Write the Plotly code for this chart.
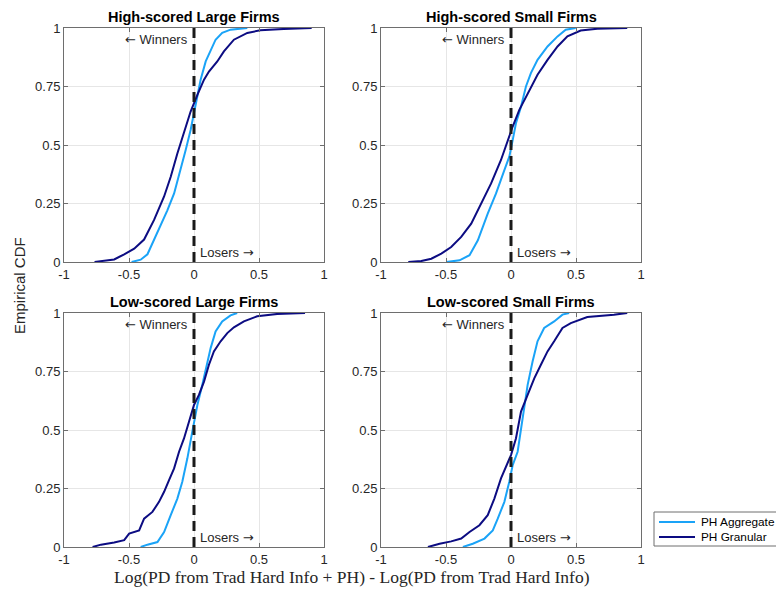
import plotly.graph_objects as go

# ---------------- data ----------------
panel_titles = ["High-scored Large Firms", "High-scored Small Firms",
                "Low-scored Large Firms", "Low-scored Small Firms"]
series_names = ["PH Aggregate", "PH Granular"]
x_ticks = [-1, -0.5, 0, 0.5, 1]
x_tick_labels = ["-1", "-0.5", "0", "0.5", "1"]
y_ticks = [0, 0.25, 0.5, 0.75, 1]
y_tick_labels = ["0", "0.25", "0.5", "0.75", "1"]

# High-scored Large Firms
hl_agg_x = [-0.48, -0.41, -0.358, -0.32, -0.269, -0.205, -0.153, -0.102, -0.064, -0.026, 0.0, 0.026, 0.051, 0.09, 0.128, 0.166, 0.217, 0.281, 0.41]
hl_agg_y = [0.0, 0.01, 0.033, 0.079, 0.136, 0.221, 0.293, 0.393, 0.479, 0.564, 0.636, 0.707, 0.779, 0.857, 0.907, 0.95, 0.979, 0.993, 1.0]
hl_gran_x = [-0.765, -0.614, -0.537, -0.46, -0.384, -0.307, -0.23, -0.179, -0.128, -0.077, -0.026, 0.026, 0.077, 0.115, 0.179, 0.23, 0.307, 0.41, 0.51, 0.69, 0.905]
hl_gran_y = [0.0, 0.011, 0.033, 0.057, 0.096, 0.18, 0.28, 0.364, 0.464, 0.55, 0.643, 0.714, 0.779, 0.814, 0.857, 0.9, 0.95, 0.979, 0.99, 0.996, 1.0]

# High-scored Small Firms
hs_agg_x = [-0.498, -0.396, -0.319, -0.255, -0.179, -0.115, -0.051, -0.013, 0.013, 0.038, 0.077, 0.115, 0.153, 0.204, 0.281, 0.358, 0.421, 0.498]
hs_agg_y = [0.0, 0.007, 0.029, 0.093, 0.207, 0.293, 0.393, 0.45, 0.521, 0.593, 0.664, 0.75, 0.807, 0.864, 0.921, 0.964, 0.993, 1.0]
hs_gran_x = [-0.79, -0.69, -0.613, -0.536, -0.46, -0.383, -0.306, -0.23, -0.153, -0.077, -0.026, 0.013, 0.064, 0.128, 0.204, 0.281, 0.358, 0.434, 0.536, 0.664, 0.894]
hs_gran_y = [0.0, 0.004, 0.014, 0.036, 0.064, 0.107, 0.164, 0.25, 0.336, 0.436, 0.521, 0.579, 0.65, 0.721, 0.8, 0.864, 0.921, 0.964, 0.989, 0.997, 1.0]

# Low-scored Large Firms
ll_agg_x = [-0.41, -0.358, -0.281, -0.23, -0.179, -0.128, -0.09, -0.051, -0.013, 0.026, 0.064, 0.102, 0.128, 0.166, 0.217, 0.281, 0.332]
ll_agg_y = [0.0, 0.01, 0.021, 0.064, 0.136, 0.207, 0.279, 0.379, 0.493, 0.607, 0.693, 0.779, 0.85, 0.921, 0.964, 0.99, 1.0]
ll_gran_x = [-0.78, -0.716, -0.614, -0.537, -0.499, -0.422, -0.384, -0.32, -0.269, -0.23, -0.192, -0.153, -0.115, -0.077, -0.038, 0.0, 0.038, 0.077, 0.115, 0.153, 0.205, 0.256, 0.307, 0.384, 0.486, 0.64, 0.854]
ll_gran_y = [0.0, 0.01, 0.019, 0.029, 0.057, 0.071, 0.121, 0.15, 0.193, 0.236, 0.286, 0.336, 0.407, 0.464, 0.536, 0.607, 0.65, 0.707, 0.779, 0.836, 0.879, 0.914, 0.939, 0.964, 0.986, 0.996, 1.0]

# Low-scored Small Firms
ls_agg_x = [-0.37, -0.294, -0.204, -0.14, -0.102, -0.051, -0.013, 0.013, 0.051, 0.077, 0.102, 0.128, 0.166, 0.204, 0.255, 0.332, 0.396, 0.447]
ls_agg_y = [0.0, 0.014, 0.036, 0.071, 0.121, 0.193, 0.279, 0.35, 0.407, 0.507, 0.607, 0.693, 0.793, 0.879, 0.936, 0.964, 0.993, 1.0]
ls_gran_x = [-0.639, -0.549, -0.46, -0.383, -0.319, -0.243, -0.179, -0.128, -0.077, -0.038, 0.0, 0.038, 0.077, 0.128, 0.179, 0.23, 0.281, 0.332, 0.396, 0.46, 0.587, 0.792, 0.894]
ls_gran_y = [0.0, 0.014, 0.024, 0.036, 0.064, 0.093, 0.136, 0.207, 0.293, 0.343, 0.393, 0.464, 0.579, 0.65, 0.721, 0.779, 0.836, 0.879, 0.936, 0.957, 0.983, 0.993, 1.0]

agg_series = [(hl_agg_x, hl_agg_y), (hs_agg_x, hs_agg_y), (ll_agg_x, ll_agg_y), (ls_agg_x, ls_agg_y)]
gran_series = [(hl_gran_x, hl_gran_y), (hs_gran_x, hs_gran_y), (ll_gran_x, ll_gran_y), (ls_gran_x, ls_gran_y)]

# ---------------- style / layout ----------------
W, H = 776, 595
COL_AGG = "#1aa3f7"
COL_GRAN = "#0c0c82"
FONT = "Liberation Sans, Arial, sans-serif"
TXT = "#262626"
ARROW_SPAN = '<span style="font-family:DejaVu Sans">{}</span>'

# panel pixel boxes: (left, right, top, bottom)
boxes = [(64, 324, 28, 262), (381, 641, 28, 262),
         (64, 324, 313, 547), (381, 641, 313, 547)]

fig = go.Figure()
layout = dict(width=W, height=H, margin=dict(l=0, r=0, t=0, b=0, autoexpand=False),
              paper_bgcolor="white", plot_bgcolor="white",
              font=dict(family=FONT, size=13, color=TXT),
              showlegend=False)
annotations = []
shapes = []

for i, (l, r, t, b) in enumerate(boxes):
    k = "" if i == 0 else str(i + 1)
    xa, ya = "x" + k, "y" + k
    axis_common = dict(showline=True, linecolor="#6e6e6e", linewidth=1, mirror="ticks",
                       ticks="inside", ticklen=4, tickcolor="#6e6e6e", automargin=False,
                       showgrid=True, gridcolor="#e6e6e6", gridwidth=1,
                       zeroline=False, tickfont=dict(family=FONT, size=13, color=TXT))
    layout["xaxis" + k] = dict(domain=[l / W, r / W], anchor=ya, range=[-1, 1],
                               tickvals=x_ticks, ticktext=x_tick_labels, **axis_common)
    layout["yaxis" + k] = dict(domain=[1 - b / H, 1 - t / H], anchor=xa, range=[0, 1],
                               tickvals=y_ticks, ticktext=y_tick_labels, **axis_common)

    ax, ay = agg_series[i]
    gx, gy = gran_series[i]
    fig.add_trace(go.Scatter(x=ax, y=ay, mode="lines", name=series_names[0],
                             line=dict(color=COL_AGG, width=2), xaxis=xa, yaxis=ya))
    fig.add_trace(go.Scatter(x=gx, y=gy, mode="lines", name=series_names[1],
                             line=dict(color=COL_GRAN, width=2), xaxis=xa, yaxis=ya))

    shapes.append(dict(type="line", xref=xa, yref=ya, x0=0, x1=0, y0=0, y1=1,
                       line=dict(color="#1a1a1a", width=3, dash="10px,6px"), layer="above"))

    annotations.append(dict(text="<b>" + panel_titles[i] + "</b>", xref="paper", yref="paper",
                            x=(l + r) / 2 / W, y=1 - (t - 11) / H, xanchor="center", yanchor="middle",
                            showarrow=False, font=dict(family=FONT, size=14.5, color="black")))
    annotations.append(dict(text=ARROW_SPAN.format("\u2190") + " Winners", xref=xa, yref=ya,
                            x=-0.03, y=0.95, xanchor="right", yanchor="middle", showarrow=False,
                            font=dict(family=FONT, size=13, color=TXT)))
    annotations.append(dict(text="Losers " + ARROW_SPAN.format("\u2192"), xref=xa, yref=ya,
                            x=0.03, y=0.04, xanchor="left", yanchor="middle", showarrow=False,
                            font=dict(family=FONT, size=13, color=TXT)))

annotations.append(dict(text="Empirical CDF", xref="paper", yref="paper",
                        x=19 / W, y=1 - 286 / H, xanchor="center", yanchor="middle",
                        textangle=-90, showarrow=False,
                        font=dict(family=FONT, size=15, color=TXT)))
annotations.append(dict(text="Log(PD from Trad Hard Info + PH) - Log(PD from Trad Hard Info)",
                        xref="paper", yref="paper", x=352 / W, y=1 - 577 / H,
                        xanchor="center", yanchor="middle", showarrow=False,
                        font=dict(family="Liberation Serif, Times New Roman, serif", size=17.5, color=TXT)))

# legend box (runs to the right edge like the reference)
shapes.append(dict(type="rect", xref="paper", yref="paper",
                   x0=654 / W, x1=800 / W, y0=1 - 546 / H, y1=1 - 512 / H,
                   line=dict(color="#6e6e6e", width=1), fillcolor="white", layer="above"))
for j, (name, col) in enumerate(zip(series_names, [COL_AGG, COL_GRAN])):
    yy = 1 - (522 + 15 * j) / H
    shapes.append(dict(type="line", xref="paper", yref="paper",
                       x0=659 / W, x1=695 / W, y0=yy, y1=yy,
                       line=dict(color=col, width=2), layer="above"))
    annotations.append(dict(text=name, xref="paper", yref="paper", x=699 / W, y=yy,
                            xanchor="left", yanchor="middle", showarrow=False,
                            font=dict(family=FONT, size=11.8, color="black")))

layout["annotations"] = annotations
layout["shapes"] = shapes
fig.update_layout(**layout)

fig.write_html("out.html")
